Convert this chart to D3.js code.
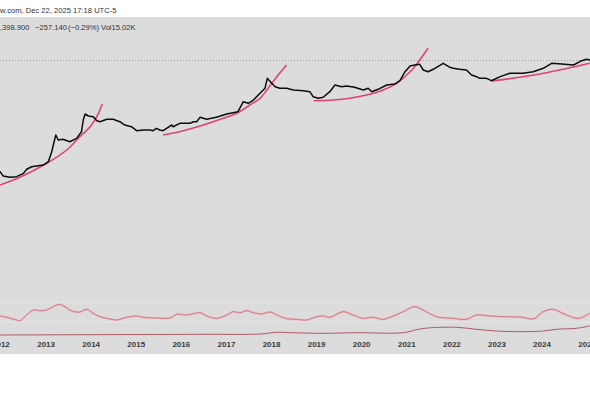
<!DOCTYPE html>
<html>
<head>
<meta charset="utf-8">
<script src="https://cdn.jsdelivr.net/npm/d3@7"></script>
<style>
  html, body { margin: 0; padding: 0; background: #fff; }
  svg { display: block; }
</style>
</head>
<body>
<div id="chart"></div>
<script>
// price path (date, close)
const pricePoints = [
  ["2011-11-15", 11], ["2011-12-29", 10.8], ["2012-01-24", 7.6], ["2012-03-18", 6.8],
  ["2012-05-12", 7.2], ["2012-07-06", 9.4], ["2012-08-01", 13.1], ["2012-09-10", 16.1],
  ["2012-10-19", 17.1], ["2012-12-13", 18.5], ["2013-01-23", 24.2], ["2013-02-20", 54.4],
  ["2013-03-11", 122], ["2013-03-25", 211], ["2013-04-13", 141], ["2013-05-22", 149],
  ["2013-07-16", 122], ["2013-09-09", 161], ["2013-10-19", 275], ["2013-11-02", 711],
  ["2013-11-17", 1157], ["2013-12-13", 984], ["2014-01-22", 929], ["2014-02-20", 672],
  ["2014-03-18", 620], ["2014-05-12", 753], ["2014-07-02", 753], ["2014-08-25", 620],
  ["2014-10-05", 474], ["2014-11-28", 413], ["2015-01-08", 299], ["2015-03-03", 316],
  ["2015-04-27", 316], ["2015-05-22", 299], ["2015-06-18", 363], ["2015-07-15", 316],
  ["2015-08-11", 299], ["2015-09-08", 363], ["2015-10-20", 474], ["2015-10-31", 413],
  ["2015-12-24", 544], ["2016-01-21", 544], ["2016-03-15", 544], ["2016-04-12", 620],
  ["2016-05-08", 620], ["2016-06-06", 885], ["2016-07-28", 753], ["2016-10-15", 885],
  ["2017-01-07", 1157], ["2017-02-27", 1285], ["2017-04-08", 1394], ["2017-05-22", 3136],
  ["2017-07-01", 2754], ["2017-08-11", 3597], ["2017-10-04", 6196], ["2017-11-13", 9296],
  ["2017-12-02", 20900], ["2018-01-07", 13940], ["2018-02-03", 10590], ["2018-03-14", 9296],
  ["2018-05-07", 9296], ["2018-07-01", 8094], ["2018-09-20", 7650], ["2018-11-11", 7060],
  ["2018-12-08", 4707], ["2019-01-18", 4131], ["2019-02-28", 4480], ["2019-04-22", 7060],
  ["2019-06-03", 12160], ["2019-07-27", 10590], ["2019-09-05", 11200], ["2019-11-09", 10090],
  ["2020-01-18", 8094], ["2020-02-27", 9296], ["2020-03-26", 7060], ["2020-05-18", 8570],
  ["2020-07-25", 12160], ["2020-10-01", 13180], ["2020-11-10", 17220], ["2020-12-22", 35700],
  ["2021-01-31", 56730], ["2021-03-11", 61500], ["2021-04-20", 65060], ["2021-05-18", 41000],
  ["2021-06-26", 35700], ["2021-08-07", 43370], ["2021-10-27", 70600], ["2021-12-20", 51030],
  ["2022-01-15", 47070], ["2022-03-10", 43370], ["2022-05-03", 41000], ["2022-06-13", 27330],
  ["2022-07-24", 23820], ["2022-08-18", 20900], ["2022-10-12", 20900], ["2022-11-21", 17220],
  ["2023-01-31", 24000], ["2023-04-20", 31350], ["2023-08-03", 31350], ["2023-10-26", 35700],
  ["2024-01-15", 47070], ["2024-03-23", 70600], ["2024-06-12", 66700], ["2024-09-16", 61500],
  ["2024-11-22", 87100], ["2025-01-01", 97500], ["2025-01-31", 92200], ["2025-03-01", 86000]
];

// hand drawn growth curves (pink)
const curve2013 = [
  ["2011-12-29", 3.66], ["2012-06-06", 6.83], ["2013-01-11", 21.3], ["2013-06-21", 62.5],
  ["2013-10-05", 184], ["2013-12-28", 413], ["2014-02-20", 929], ["2014-04-05", 2603]
];
const curve2017 = [
  ["2015-08-11", 211], ["2016-01-21", 299], ["2016-07-01", 474], ["2016-12-10", 817],
  ["2017-03-28", 1225], ["2017-07-13", 2400], ["2017-10-04", 4131], ["2017-11-28", 8094],
  ["2018-02-17", 23820], ["2018-05-07", 61500]
];
const curve2021 = [
  ["2018-12-13", 3404], ["2019-05-18", 3597], ["2019-10-01", 4131], ["2020-02-13", 5400],
  ["2020-06-27", 8094], ["2020-10-15", 13940], ["2021-01-04", 27330], ["2021-02-28", 47070],
  ["2021-04-20", 92200], ["2021-06-26", 238000]
];
const curve2024 = [
  ["2022-11-21", 16800], ["2023-11-03", 27330], ["2024-07-30", 47070], ["2025-01-26", 70600]
];

// lower pane lines
const oscPoints = [
  ["2011-12-29", 42], ["2012-02-20", 39.4], ["2012-05-11", 34], ["2012-06-06", 32.6],
  ["2012-07-31", 44], ["2012-09-24", 54], ["2012-11-16", 52.6], ["2013-01-11", 54],
  ["2013-03-04", 60.6], ["2013-04-22", 65.4], ["2013-06-07", 60.6], ["2013-08-01", 52],
  ["2013-10-06", 50], ["2013-11-29", 55.4], ["2014-01-22", 47.4], ["2014-03-18", 40.6],
  ["2014-06-07", 36], ["2014-08-01", 34], ["2014-10-20", 39.4], ["2015-01-08", 42],
  ["2015-03-03", 39.4], ["2015-06-20", 38], ["2015-10-06", 38], ["2015-11-29", 45.4],
  ["2016-02-17", 44], ["2016-06-06", 48.6], ["2016-07-28", 42], ["2016-10-18", 37.4],
  ["2017-01-08", 44], ["2017-03-01", 50.6], ["2017-04-23", 48.6], ["2017-06-17", 52.6],
  ["2017-08-11", 48.6], ["2017-10-16", 46], ["2017-12-24", 50], ["2018-02-17", 44],
  ["2018-05-09", 36.6], ["2018-07-28", 35.4], ["2018-10-17", 34], ["2019-01-05", 40.6],
  ["2019-02-28", 42], ["2019-04-23", 39.4], ["2019-08-08", 50.6], ["2019-10-27", 44],
  ["2020-01-17", 37.4], ["2020-04-07", 39.4], ["2020-06-27", 35.4], ["2020-09-17", 42],
  ["2020-12-06", 50.6], ["2021-03-10", 60.6], ["2021-05-17", 54], ["2021-09-03", 40.6],
  ["2022-01-15", 37.4], ["2022-05-03", 35.4], ["2022-07-23", 44], ["2022-11-08", 42],
  ["2023-03-25", 40.6], ["2023-08-04", 39.4], ["2023-10-26", 36], ["2024-01-15", 50.6],
  ["2024-04-04", 55.4], ["2024-06-21", 47.4], ["2024-09-09", 39.4], ["2024-11-03", 37.4],
  ["2025-01-26", 47.4]
];
const slowPoints = [
  ["2011-12-29", 4], ["2016-06-06", 5.4], ["2017-10-05", 6], ["2018-02-17", 9.4],
  ["2018-06-04", 8.6], ["2019-02-28", 7.4], ["2019-11-24", 8.6], ["2020-12-06", 8.6],
  ["2021-04-09", 15.4], ["2021-07-24", 18.6], ["2022-02-15", 19.4], ["2022-07-23", 15.4],
  ["2023-01-01", 12], ["2023-08-04", 10.6], ["2024-01-15", 12], ["2024-04-30", 15.4],
  ["2024-10-10", 17.4], ["2025-01-26", 22]
];
const oscBands = [70, 30];

const yearTicks = [2012, 2013, 2014, 2015, 2016, 2017, 2018, 2019, 2020, 2021, 2022, 2023, 2024, 2025];
const lastPrice = 88398.9;
const headerTop = "w.com, Dec 22, 2025 17:18 UTC-5";
const headerQuote = [",398.900", "\u2212257.140", "(\u22120.29%)", "Vol15.02K"];

const width = 590, height = 393;
const parse = d3.timeParse("%Y-%m-%d");
const toXY = arr => arr.map(([d, v]) => ({ date: parse(d), value: v }));

const svg = d3.select("#chart").append("svg")
  .attr("width", width)
  .attr("height", height)
  .style("font-family", "'Liberation Sans', Arial, sans-serif");

svg.append("rect")
  .attr("x", 0).attr("y", 17)
  .attr("width", width).attr("height", 337)
  .attr("fill", "#dcdcdc");

const x = d3.scaleTime()
  .domain([new Date(2012, 0, 1), new Date(2025, 0, 1)])
  .range([0.4, 586.7]);
const y = d3.scaleLog()
  .domain([1, 1e5])
  .range([201, 59]);
const yOsc = d3.scaleLinear()
  .domain([0, 100])
  .range([337, 287]);

const defs = svg.append("defs");
defs.append("clipPath").attr("id", "clip-main")
  .append("rect").attr("x", 0).attr("y", 17).attr("width", width).attr("height", 273);
defs.append("clipPath").attr("id", "clip-osc")
  .append("rect").attr("x", 0).attr("y", 290).attr("width", width).attr("height", 47);

// header texts
svg.append("text")
  .attr("x", 0).attr("y", 12.5)
  .attr("font-size", 7.6)
  .attr("fill", "#333")
  .text(headerTop);

const quoteX = [0, 35, 68, 101];
svg.append("g")
  .selectAll("text")
  .data(headerQuote)
  .join("text")
  .attr("x", (d, i) => quoteX[i])
  .attr("y", 30)
  .attr("font-size", 7.6)
  .attr("fill", "#333")
  .text(d => d);

// main pane
const main = svg.append("g").attr("clip-path", "url(#clip-main)");

main.append("line")
  .attr("x1", 0).attr("x2", width)
  .attr("y1", y(lastPrice)).attr("y2", y(lastPrice))
  .attr("stroke", "#8a8a8a")
  .attr("stroke-width", 0.8)
  .attr("stroke-dasharray", "1,2");

const priceLine = d3.line()
  .x(d => x(d.date))
  .y(d => y(d.value));

const curveLine = d3.line()
  .x(d => x(d.date))
  .y(d => y(d.value))
  .curve(d3.curveCatmullRom);

[curve2013, curve2017, curve2021, curve2024].forEach(c => {
  main.append("path")
    .datum(toXY(c))
    .attr("fill", "none")
    .attr("stroke", "#e2426f")
    .attr("stroke-width", 1.6)
    .attr("d", curveLine);
});

main.append("path")
  .datum(toXY(pricePoints))
  .attr("fill", "none")
  .attr("stroke", "#0c0c0c")
  .attr("stroke-width", 1.5)
  .attr("stroke-linejoin", "round")
  .attr("d", priceLine);

// lower pane
const osc = svg.append("g").attr("clip-path", "url(#clip-osc)");

osc.selectAll("line.band")
  .data(oscBands)
  .join("line")
  .attr("class", "band")
  .attr("x1", 0).attr("x2", width)
  .attr("y1", d => yOsc(d)).attr("y2", d => yOsc(d))
  .attr("stroke", "#e6e6e6")
  .attr("stroke-width", 1);

const oscLine = d3.line()
  .x(d => x(d.date))
  .y(d => yOsc(d.value))
  .curve(d3.curveCatmullRom);

osc.append("path")
  .datum(toXY(oscPoints))
  .attr("fill", "none")
  .attr("stroke", "#eebcc0")
  .attr("stroke-width", 2.2)
  .attr("d", oscLine);
osc.append("path")
  .datum(toXY(oscPoints))
  .attr("fill", "none")
  .attr("stroke", "#b86270")
  .attr("stroke-width", 0.7)
  .attr("d", oscLine);

osc.append("path")
  .datum(toXY(slowPoints))
  .attr("fill", "none")
  .attr("stroke", "#a84a56")
  .attr("stroke-width", 0.9)
  .attr("d", oscLine);

// time axis
const xAxis = d3.axisBottom(x)
  .tickValues(yearTicks.map(yr => new Date(yr, 0, 1)))
  .tickFormat(d3.timeFormat("%Y"))
  .tickSize(0)
  .tickPadding(0);

svg.append("g")
  .attr("transform", "translate(0,341)")
  .call(xAxis)
  .call(g => g.select(".domain").remove())
  .call(g => g.selectAll("text")
    .attr("font-family", "'Liberation Sans', Arial, sans-serif")
    .attr("font-size", 8)
    .attr("font-weight", "bold")
    .attr("fill", "#3a3a3a"));
</script>
</body>
</html>
